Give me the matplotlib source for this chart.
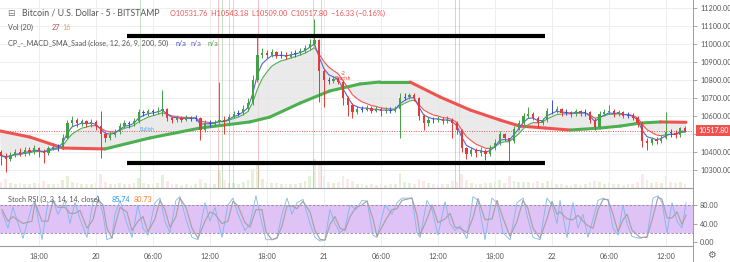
import numpy as np
import pandas as pd
import matplotlib
matplotlib.use("Agg")
import matplotlib.pyplot as plt
from matplotlib.collections import LineCollection
from matplotlib.lines import Line2D
import matplotlib.transforms as mtransforms

plt.rcParams['font.family'] = ['Lato', 'DejaVu Sans']

# ---------------- data ----------------
# time in hours relative to 20 Aug 00:00, 30-minute candles
start_hour = -10.0
bar_hours = 0.5
first_open = 10400.0

closes = [10380, 10360, 10385, 10400, 10390, 10410, 10400, 10420, 10405, 10395,
          10420, 10430, 10425, 10480, 10560, 10575, 10560, 10570, 10555, 10565,
          10545, 10500, 10480, 10495, 10510, 10545, 10560, 10555, 10570, 10620,
          10615, 10625, 10620, 10630, 10640, 10590, 10575, 10590, 10580, 10590,
          10585, 10590, 10520, 10560, 10555, 10565, 10580, 10570, 10595, 10610,
          10615, 10640, 10670, 10800, 10940, 10950, 10940, 10955, 10935, 10940,
          10930, 10945, 10950, 10960, 10975, 11000, 11020, 10850, 10800, 10795,
          10805, 10790, 10700, 10660, 10620, 10640, 10635, 10645, 10630, 10640,
          10625, 10635, 10630, 10640, 10700, 10705, 10715, 10700, 10600, 10560,
          10580, 10575, 10585, 10570, 10580, 10560, 10520, 10420, 10390, 10410,
          10395, 10405, 10390, 10420, 10450, 10500, 10475, 10460, 10530, 10560,
          10600, 10610, 10590, 10560, 10575, 10630, 10625, 10640, 10615, 10620,
          10610, 10625, 10615, 10620, 10580, 10540, 10610, 10620, 10630, 10610,
          10620, 10600, 10605, 10590, 10560, 10460, 10450, 10470, 10460, 10480,
          10510, 10505, 10495, 10531.76, 10517.80]

highs = [10410, 10395, 10400, 10415, 10420, 10425, 10430, 10440, 10430, 10415,
         10435, 10450, 10445, 10500, 10575, 10600, 10590, 10585, 10580, 10585,
         10575, 10625, 10510, 10510, 10525, 10560, 10575, 10570, 10590, 10640,
         10635, 10640, 10640, 10650, 10745, 10645, 10600, 10605, 10600, 10605,
         10600, 10605, 10595, 10575, 10575, 10580, 10790, 10600, 10610, 10630,
         10635, 10660, 10700, 10830, 11040, 10975, 10965, 10970, 10960, 10960,
         10955, 10960, 10965, 10980, 10995, 11030, 11140, 11030, 10860, 10815,
         10820, 10815, 10800, 10710, 10670, 10655, 10655, 10660, 10655, 10655,
         10650, 10650, 10650, 10655, 10730, 10725, 10730, 10725, 10705, 10610,
         10595, 10595, 10600, 10595, 10600, 10590, 10570, 10525, 10430, 10430,
         10420, 10425, 10415, 10440, 10470, 10515, 10505, 10480, 10545, 10575,
         10615, 10650, 10620, 10600, 10590, 10645, 10690, 10655, 10645, 10640,
         10630, 10640, 10635, 10640, 10625, 10590, 10625, 10640, 10660, 10640,
         10635, 10630, 10620, 10615, 10600, 10565, 10475, 10485, 10485, 10495,
         10620, 10530, 10520, 10540, 10543.18]

lows = [10330, 10290, 10350, 10370, 10375, 10380, 10385, 10390, 10370, 10340,
        10385, 10410, 10405, 10415, 10470, 10545, 10540, 10545, 10540, 10540,
        10520, 10365, 10455, 10465, 10485, 10500, 10535, 10535, 10545, 10560,
        10600, 10600, 10605, 10610, 10600, 10570, 10560, 10565, 10565, 10570,
        10570, 10570, 10465, 10510, 10540, 10545, 10555, 10500, 10560, 10590,
        10600, 10605, 10630, 10660, 10790, 10920, 10920, 10925, 10920, 10920,
        10915, 10920, 10930, 10940, 10950, 10965, 10990, 10680, 10650, 10780,
        10785, 10775, 10660, 10600, 10590, 10610, 10620, 10625, 10615, 10620,
        10600, 10615, 10615, 10620, 10480, 10690, 10695, 10685, 10580, 10520,
        10545, 10560, 10565, 10555, 10560, 10480, 10500, 10400, 10360, 10375,
        10370, 10380, 10355, 10380, 10410, 10440, 10460, 10350, 10450, 10520,
        10550, 10590, 10575, 10535, 10550, 10565, 10610, 10615, 10600, 10605,
        10595, 10600, 10600, 10600, 10560, 10520, 10535, 10600, 10610, 10595,
        10600, 10590, 10590, 10575, 10540, 10430, 10410, 10440, 10445, 10450,
        10470, 10485, 10480, 10485, 10509.00]

volumes = [30, 45, 25, 20, 25, 20, 18, 22, 25, 35, 20, 18, 20, 40, 60, 30, 22, 20, 18, 20,
           25, 70, 30, 20, 18, 25, 20, 18, 22, 50, 25, 20, 18, 22, 65, 35, 20, 18, 16, 18,
           16, 18, 45, 25, 18, 20, 80, 40, 25, 22, 20, 28, 40, 90, 120, 45, 30, 25, 22, 20,
           20, 18, 20, 25, 35, 60, 140, 110, 60, 30, 25, 30, 60, 45, 35, 20, 18, 16, 18, 16,
           18, 16, 18, 20, 75, 30, 22, 20, 45, 35, 22, 18, 16, 18, 20, 35, 30, 70, 40, 25,
           20, 18, 25, 22, 30, 40, 25, 60, 35, 30, 28, 30, 25, 35, 22, 35, 40, 20, 18, 16,
           16, 18, 16, 18, 30, 35, 30, 20, 25, 20, 18, 16, 18, 20, 30, 70, 40, 25, 30, 25,
           60, 30, 25, 28, 20]

# 200-period SMA (hours, price)
sma_hours = [-10.1, -6.95, -3.47, 0.95, 5.68, 10.95, 16.2, 18.3, 21.5, 24.6, 27.8,
             29.9, 33.05, 36.2, 39.4, 42.5, 44.6, 47.3, 49.9, 53.05, 55.2, 57.3, 59.4, 62.1]
sma_values = [10517, 10483, 10422, 10417, 10478, 10533, 10567, 10594, 10672, 10739, 10778,
              10789, 10789, 10706, 10633, 10578, 10544, 10533, 10522, 10533, 10544, 10561, 10567, 10565]

# horizontal drawing lines
level_prices = [11044, 10339]
level_start, level_end = 3.26, 47.3

# signal markers (vertical lines)
signal_hours = [4.63, 12.84, 13.26, 14.0, 14.42, 17.05, 22.84, 23.68, 37.79, 38.21]
signal_kinds = ['up', 'down', 'up', 'up', 'up', 'down', 'up', 'up', 'down', 'down']

# Stoch RSI
stoch_hours = [-9.89, -9.26, -8.74, -7.68, -6.74, -6.42, -5.68, -5.05, -4.53, -4.00,
               -3.26, -2.74, -2.21, -1.68, -0.95, -0.32, 0.21, 0.74, 1.16, 1.68,
               2.00, 2.53, 3.26, 3.79, 4.42, 4.95, 5.47, 6.21, 6.74, 7.26,
               7.79, 8.42, 8.84, 9.47, 10.11, 10.74, 11.47, 12.00, 12.53, 13.26,
               13.89, 14.42, 14.95, 15.68, 16.21, 16.84, 17.47, 17.89, 18.53, 19.05,
               19.58, 20.11, 20.63, 21.16, 21.79, 22.53, 23.05, 23.58, 24.11, 24.63,
               25.16, 25.68, 26.21, 26.74, 27.37, 28.00,
               28.53, 29.16, 29.58, 30.42, 31.16, 31.68, 32.21, 33.26, 33.79, 34.11,
               34.84, 35.37, 36.00, 36.74, 37.26, 37.79, 38.32, 39.05, 39.68, 40.21,
               40.95, 41.68, 42.21, 42.84, 43.58, 44.32, 44.95, 45.47, 46.00, 46.74,
               47.47, 48.00, 48.53, 48.84, 49.58, 50.21, 50.74, 51.26, 51.79, 52.32,
               52.84, 53.37, 53.89, 54.42, 54.95, 55.47, 55.89, 56.42, 57.26, 58.00,
               58.63, 59.16, 59.58, 60.11, 60.63, 61.16, 61.68, 62.11]
stoch_k = [65, 30, 75, 8, 78, 88, 5, 85, 90, 60, 90, 40, 85, 50, 10, 85, 100, 60, 5, 10,
           60, 90, 40, 10, 80, 30, 15, 85, 95, 45, 20, 90, 98, 50, 10, 5, 85, 45, 75, 10,
           80, 95, 60, 25, 40, 100, 40, 5, 5, 10, 60, 95, 60, 85, 92, 40, 10, 2, 5, 70,
           40, 20, 30, 80, 70, 90,
           88, 15, 10, 80, 60, 85, 95, 95, 20, 10, 90, 70, 15, 87, 40, 25, 35, 7, 98, 90,
           5, 95, 85, 20, 5, 85, 95, 50, 10, 5, 95, 80, 40, 90, 10, 85, 30, 60, 10, 50,
           90, 95, 90, 30, 15, 80, 40, 12, 8, 12, 95, 100, 85, 20, 85, 45, 30, 85]
stoch_d = [70, 45, 55, 40, 45, 85, 45, 45, 88, 75, 75, 62, 62, 68, 30, 48, 92, 80, 30, 8,
           35, 75, 65, 25, 45, 55, 22, 50, 90, 70, 32, 55, 95, 75, 30, 8, 45, 65, 60, 40,
           45, 88, 78, 42, 32, 70, 70, 22, 5, 8, 35, 78, 78, 72, 88, 65, 25, 6, 4, 38,
           55, 30, 25, 55, 75, 80,
           89, 50, 12, 45, 70, 72, 90, 95, 58, 15, 50, 80, 42, 50, 62, 32, 30, 20, 52, 94,
           48, 50, 90, 52, 12, 45, 90, 72, 30, 8, 50, 88, 60, 65, 50, 48, 58, 45, 35, 30,
           70, 92, 92, 60, 22, 48, 60, 26, 10, 10, 55, 97, 92, 52, 52, 65, 38, 58]

price_ticks = [10300, 10400, 10500, 10600, 10700, 10800, 10900, 11000, 11100, 11200]
time_ticks = [-6, 0, 6, 12, 18, 24, 30, 36, 42, 48, 54, 60]
time_labels = ['18:00', '20', '06:00', '12:00', '18:00', '21', '06:00', '12:00', '18:00', '22', '06:00', '12:00']
last_price = 10517.80

# ---------------- figure ----------------
W, H = 730, 262
fig = plt.figure(figsize=(W / 100, H / 100), dpi=100)
fig.patch.set_facecolor('white')

def fx(px):
    return px / W

def fy(py):
    return 1 - py / H

ax = fig.add_axes([0, fy(188), fx(693), 188 / H])
axs = fig.add_axes([0, fy(246), fx(693), (246 - 189) / H])

XMIN, XMAX = -10.1, 62.84
GREEN, RED, BLUE = '#43a047', '#e53935', '#3b4fd0'
GRID = '#eeeeee'

closes_a = np.array(closes, dtype=float)
highs_a = np.array(highs, dtype=float)
lows_a = np.array(lows, dtype=float)
opens_a = np.r_[first_open, closes_a[:-1]]
t = start_hour + bar_hours * np.arange(len(closes_a))

# volume (behind)
axv = ax.twinx()
vcol = ['#8bc34a' if c >= o else '#ef9a9a' for o, c in zip(opens_a, closes_a)]
axv.bar(t, volumes, width=0.3, color=vcol, alpha=0.22, linewidth=0)
axv.set_ylim(0, max(volumes) * 6.5)
axv.axis('off')
ax.set_zorder(axv.get_zorder() + 1)
ax.patch.set_visible(False)

# grid
for tt in time_ticks:
    ax.axvline(tt, color=GRID, lw=0.7, zorder=0)
    axs.axvline(tt, color=GRID, lw=0.7, zorder=0)
for p in price_ticks:
    ax.axhline(p, color=GRID, lw=0.7, zorder=0)

# signal vertical lines
for sh, kind in zip(signal_hours, signal_kinds):
    ax.axvline(sh, color=(GREEN if kind == 'up' else RED), lw=0.6, alpha=0.35, zorder=1)

# moving averages from closes
ema_fast = pd.Series(closes_a).ewm(span=3, adjust=False).mean().values
ema_slow = pd.Series(closes_a).ewm(span=6, adjust=False).mean().values

# grey cloud between slow average and SMA
poly_x = np.concatenate([t, np.array(sma_hours)[::-1]])
poly_y = np.concatenate([ema_slow, np.array(sma_values)[::-1]])
ax.fill(poly_x, poly_y, color='#e4e4e4', alpha=0.75, lw=0, zorder=1)

# SMA 200 thick coloured line
sx = np.array(sma_hours)
sv = np.array(sma_values, dtype=float)
segs = [[(sx[i], sv[i]), (sx[i + 1], sv[i + 1])] for i in range(len(sx) - 1)]
scol = ['#4caf50' if sv[i + 1] >= sv[i] else '#ef5350' for i in range(len(sx) - 1)]
ax.add_collection(LineCollection(segs, colors=scol, linewidths=2.2, capstyle='round', zorder=3))

# slow thin line coloured by direction
segs2 = [[(t[i], ema_slow[i]), (t[i + 1], ema_slow[i + 1])] for i in range(len(t) - 1)]
col2 = ['#4caf50' if ema_slow[i + 1] >= ema_slow[i] else '#ef5350' for i in range(len(t) - 1)]
ax.add_collection(LineCollection(segs2, colors=col2, linewidths=0.8, zorder=4))
ax.plot(t, ema_fast, color='#5563de', lw=0.8, zorder=4)

# candles
ccol = []
for o, c in zip(opens_a, closes_a):
    if c - o > 8:
        ccol.append(GREEN)
    elif o - c > 8:
        ccol.append(RED)
    else:
        ccol.append(BLUE)
ax.vlines(t, lows_a, highs_a, colors=ccol, lw=0.7, zorder=5)
bottoms = np.minimum(opens_a, closes_a)
heights = np.maximum(np.abs(closes_a - opens_a), 3)
ax.bar(t, heights, bottom=bottoms, width=0.24, color=ccol, linewidth=0, zorder=5)

# horizontal drawings
for lp in level_prices:
    ax.hlines(lp, level_start, level_end, colors='black', lw=3.0, zorder=6)

# last price line
ax.axhline(last_price, color='#ef5350', lw=0.7, ls=(0, (1, 1.5)), zorder=2)

# small labels
ax.text(5.4, 10515, 'Bullish', color='#42a5f5', fontsize=3.6, zorder=7, ha='center')
ax.text(26.0, 10800, '-2\nBearish', color='#e53935', fontsize=3.6, zorder=7, ha='center', linespacing=0.9)

ax.set_xlim(XMIN, XMAX)
ax.set_ylim(10200, 11244.4)
ax.yaxis.tick_right()
ax.set_yticks(price_ticks)
ax.set_yticklabels([('' if p == 10500 else f'{p:.2f}') for p in price_ticks])
ax.tick_params(axis='y', length=3, width=0.6, color='#999999', labelsize=5.2, labelcolor='#555555', pad=2)
ax.set_xticks([])
for s in ['top', 'left']:
    ax.spines[s].set_visible(False)
ax.spines['right'].set_color('#9a9a9a')
ax.spines['right'].set_linewidth(0.7)
ax.spines['bottom'].set_color('#9a9a9a')
ax.spines['bottom'].set_linewidth(0.8)

# price label box
trans = mtransforms.blended_transform_factory(ax.transAxes, ax.transData)
ax.text(1.008, last_price, f'{last_price:.2f}', transform=trans, fontsize=5.0, color='white',
        va='center', ha='left', clip_on=False, zorder=10,
        bbox=dict(boxstyle='square,pad=0.3', fc='#ef5350', ec='none'))

# ---------- stoch RSI ----------
axs.fill_between([XMIN, XMAX], 20, 80, color='#dfc2f6', lw=0, zorder=1)
axs.axhline(80, color='#8f7d9c', lw=0.6, ls=(0, (3, 2)), zorder=2)
axs.axhline(20, color='#8f7d9c', lw=0.6, ls=(0, (3, 2)), zorder=2)
axs.plot(stoch_hours, stoch_k, color='#7db8ea', lw=0.6, zorder=3)
axs.plot(stoch_hours, stoch_d, color='#aaa0a6', lw=0.85, zorder=4)
axs.set_xlim(XMIN, XMAX)
axs.set_ylim(-8.6, 114.6)
axs.yaxis.tick_right()
axs.set_yticks([0, 40, 80])
axs.set_yticklabels(['0.00', '40.00', '80.00'])
axs.tick_params(axis='y', length=3, width=0.6, color='#999999', labelsize=5.2, labelcolor='#555555', pad=2)
axs.set_xticks(time_ticks)
axs.set_xticklabels(time_labels)
axs.tick_params(axis='x', length=0, labelsize=5.2, labelcolor='#555555', pad=5)
for s in ['top', 'left']:
    axs.spines[s].set_visible(False)
axs.spines['right'].set_color('#9a9a9a')
axs.spines['right'].set_linewidth(0.7)
axs.spines['bottom'].set_color('#9a9a9a')
axs.spines['bottom'].set_linewidth(0.8)

fig.add_artist(Line2D([fx(693), fx(693)], [fy(246), fy(262)], color='#9a9a9a', lw=0.7))

# ---------- header texts ----------
fig.text(fx(7), fy(13), '\u229f', fontsize=6.5, color='#777777', va='center', family=['DejaVu Sans'])
fig.text(fx(22), fy(13), 'Bitcoin / U.S. Dollar \u00b7 5 \u00b7 BITSTAMP', fontsize=6.3, color='#555555', va='center')
fig.text(fx(170), fy(13), 'O10531.76  H10543.18  L10509.00  C10517.80  \u221216.33 (\u22120.16%)',
         fontsize=5.3, color='#ef5350', va='center')
fig.text(fx(8), fy(27), 'Vol (20)', fontsize=5.2, color='#555555', va='center')
fig.text(fx(52), fy(27), '27', fontsize=5.2, color='#c0504d', va='center')
fig.text(fx(62), fy(27), '16', fontsize=5.2, color='#f0a060', va='center')
fig.text(fx(8), fy(43), 'CP_-_MACD_SMA_Saad (close, 12, 26, 9, 200, 50)', fontsize=5.2, color='#555555', va='center')
fig.text(fx(175), fy(43), 'n/a', fontsize=5.2, color='#3b4fd0', va='center')
fig.text(fx(191), fy(43), 'n/a', fontsize=5.2, color='#6a5acd', va='center')
fig.text(fx(207), fy(43), 'n/a', fontsize=5.2, color='#43a047', va='center')

fig.text(fx(8), fy(199), 'Stoch RSI (3, 3, 14, 14, close)', fontsize=5.2, color='#555555', va='center')
fig.text(fx(112), fy(199), '85.74', fontsize=5.2, color='#2196f3', va='center')
fig.text(fx(134), fy(199), '80.73', fontsize=5.2, color='#ff7f27', va='center')

fig.text(fx(711), fy(255), '\u2699', fontsize=7, color='#666666', va='center', ha='center', family=['DejaVu Sans'])

fig.savefig('out.png', dpi=100, facecolor='white')
